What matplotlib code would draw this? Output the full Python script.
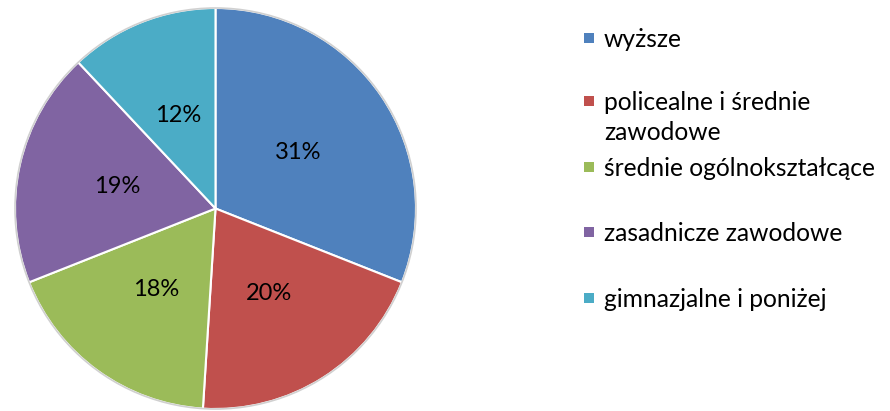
"""
Pie chart: education level shares
"""
import matplotlib
matplotlib.use('Agg')
import matplotlib.pyplot as plt
import matplotlib.patches as mpatches

plt.rcParams['font.family'] = ['Lato', 'DejaVu Sans']

LABELS = ['wyższe', 'policealne i średnie\nzawodowe', 'średnie ogólnokształcące',
          'zasadnicze zawodowe', 'gimnazjalne i poniżej']
SHARES = [31, 20, 18, 19, 12]
COLORS = ['#4F81BD', '#C0504D', '#9BBB59', '#8064A2', '#4BACC6']

# legend rows: centre of the colour square, pixels from top
LEGEND_Y = [38, 101, 167, 232, 297.5]
LINE_H = 30

W, H = 890, 411
fig = plt.figure(figsize=(W / 100, H / 100), dpi=100)
ax = fig.add_axes([15 / W, 2 / H, 401 / W, 401 / H])

wedges, texts, autotexts = ax.pie(SHARES, colors=COLORS, startangle=90, counterclock=False,
                                  autopct='%d%%', pctdistance=0.5, radius=1.0,
                                  wedgeprops=dict(edgecolor='white', linewidth=1.5))
for w in wedges:
    w.set_clip_on(False)
for t in autotexts:
    t.set_fontsize(17)
    t.set_color('black')
ax.add_patch(mpatches.Circle((0, 0), 1.0, fill=False, edgecolor='#d0d0d0',
                             linewidth=1.2, clip_on=False))
ax.set_xlim(-1, 1)
ax.set_ylim(-1, 1)
ax.set_aspect('equal')
ax.axis('off')

for lab, c, y in zip(LABELS, COLORS, LEGEND_Y):
    fig.patches.append(mpatches.Rectangle((584 / W, 1 - (y + 5) / H), 10 / W, 10 / H,
                                          facecolor=c, edgecolor='none',
                                          transform=fig.transFigure, figure=fig))
    for k, line in enumerate(lab.split('\n')):
        base = y + 9 + k * LINE_H
        fig.text(604 / W, 1 - base / H, line, fontsize=17.7, va='baseline', ha='left')

fig.savefig('out.png', dpi=100)
